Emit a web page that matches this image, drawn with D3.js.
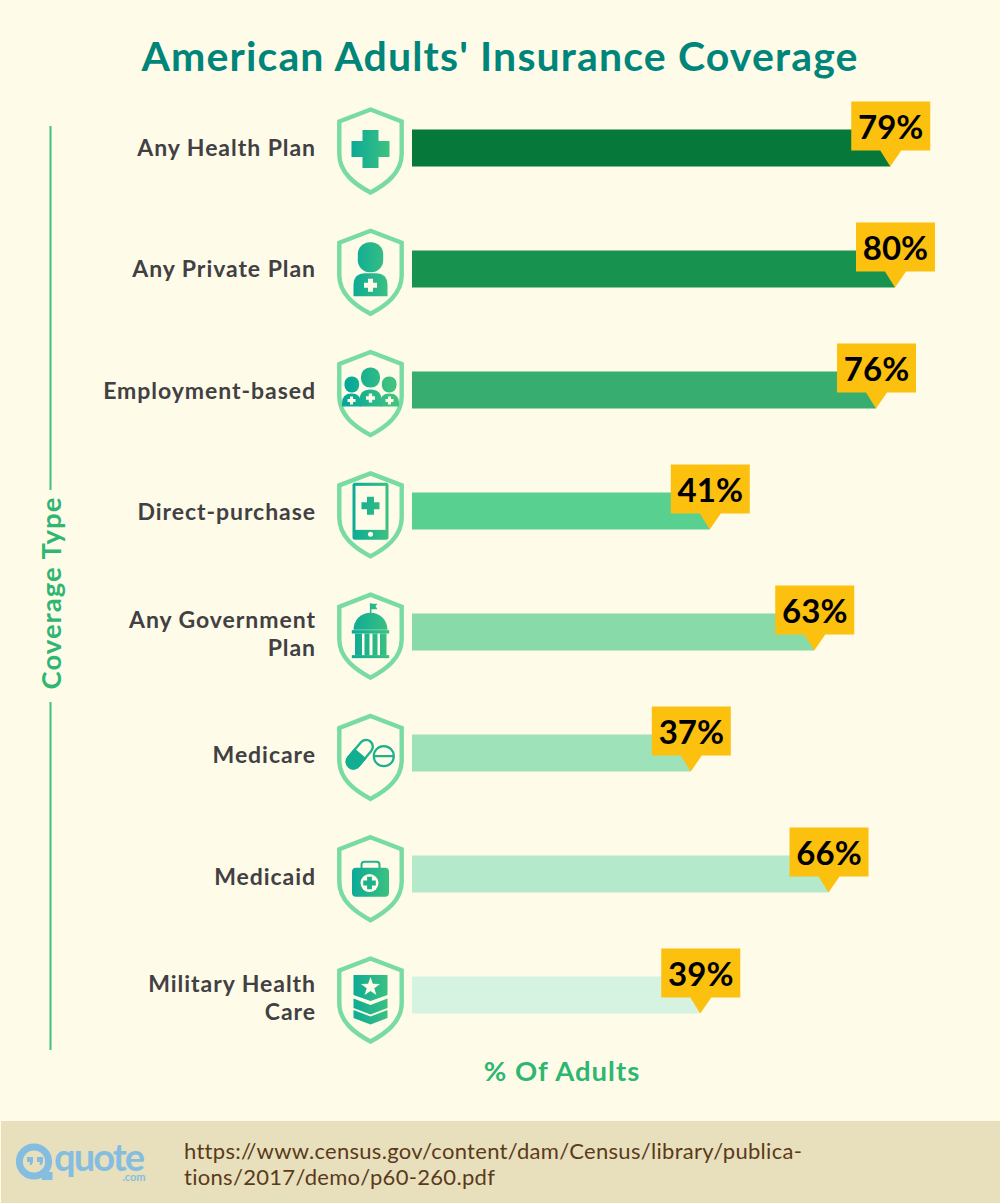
<!doctype html>
<html>
<head>
	<meta charset="utf-8">
	<script src="https://d3js.org/d3.v7.min.js" charset="utf-8"></script>
	<style type="text/css">
		html, body { margin: 0; padding: 0; background: #fffbe9; }
		svg { display: block; }
		text { font-family: Lato, sans-serif; }
		.title { font-size: 41px; font-weight: 700; fill: #00857a; letter-spacing: 1.15px; }
		.label { font-size: 23px; font-weight: 700; fill: #414042; letter-spacing: 0.95px; }
		.axis-title { font-size: 27.5px; font-weight: 700; fill: #2fb673; letter-spacing: 1px; }
		.value { font-size: 33px; font-weight: 700; fill: #000; }
		.source { font-size: 22px; fill: #5b3a1a; letter-spacing: 0.3px; }
		.logo { fill: #85bde0; }
	</style>
</head>
<body>
	<div id="chart"></div>
	<script type="text/javascript">
		var categories = ["Any Health Plan", "Any Private Plan", "Employment-based", "Direct-purchase",
			"Any Government Plan", "Medicare", "Medicaid", "Military Health Care"];
		var labelLines = [["Any Health Plan"], ["Any Private Plan"], ["Employment-based"], ["Direct-purchase"],
			["Any Government", "Plan"], ["Medicare"], ["Medicaid"], ["Military Health", "Care"]];
		var values = [79, 80, 76, 41, 63, 37, 66, 39];
		var barColors = ["#05783a", "#18934f", "#37ae6f", "#58d08f", "#88dba9", "#9de2b8", "#b4e9cb", "#d6f3e1"];
		var iconNames = ["cross", "person", "group", "phone", "capitol", "pills", "bag", "rank"];
		var sourceLines = ["https://www.census.gov/content/dam/Census/library/publica-", "tions/2017/demo/p60-260.pdf"];

		var width = 1000, height = 1203;
		var bg = "#fffbe9";

		// the source bars do not start at zero, this domain is what fits their lengths
		var x = d3.scaleLinear().domain([-21.7, 80]).range([412, 895]);
		var y = d3.scalePoint().domain(categories).range([148, 995]);
		var shieldY = d3.scalePoint().domain(categories).range([151, 1000]);
		var labelY = d3.scalePoint().domain(categories).range([148, 998]);
		var barH = 37;

		var svg = d3.select("#chart").append("svg").attr("width", width).attr("height", height);
		svg.append("rect").attr("width", width).attr("height", height).attr("fill", bg);

		var grad = svg.append("defs").append("linearGradient").attr("id", "iconFill")
			.attr("gradientUnits", "userSpaceOnUse")
			.attr("x1", -22).attr("x2", 22).attr("y1", 0).attr("y2", 0);
		grad.append("stop").attr("offset", 0).attr("stop-color", "#07a899");
		grad.append("stop").attr("offset", 1).attr("stop-color", "#41c37e");

		svg.append("text").attr("class", "title").attr("x", 500).attr("y", 71)
			.attr("text-anchor", "middle").text("American Adults' Insurance Coverage");

		// left axis title
		var axisLine = d3.path();
		axisLine.moveTo(50.5, 126); axisLine.lineTo(50.5, 490);
		axisLine.moveTo(50.5, 702); axisLine.lineTo(50.5, 1050);
		svg.append("path").attr("d", axisLine.toString()).attr("fill", "none").attr("stroke", "#3cc17f").attr("stroke-width", 2);
		svg.append("text").attr("class", "axis-title").attr("text-anchor", "middle")
			.attr("transform", "translate(61,593) rotate(-90)").text("Coverage Type");
		svg.append("text").attr("class", "axis-title").attr("x", 562).attr("y", 1081)
			.attr("text-anchor", "middle").text("% Of Adults");

		var rows = categories.map(function (c, i) {
			return {name: c, lines: labelLines[i], value: values[i], color: barColors[i], icon: iconNames[i]};
		});

		// labels
		svg.selectAll("text.label").data(rows).enter().append("text")
			.attr("class", "label").attr("text-anchor", "end")
			.attr("y", function (d) { return labelY(d.name) + 8 - (d.lines.length - 1) * 14; })
			.selectAll("tspan").data(function (d) { return d.lines; }).enter().append("tspan")
			.attr("x", 316)
			.attr("dy", function (d, i) { return i ? 28 : 0; })
			.text(function (d) { return d; });

		// bars
		svg.selectAll("rect.bar").data(rows).enter().append("rect")
			.attr("class", "bar")
			.attr("x", x(x.domain()[0]))
			.attr("y", function (d) { return y(d.name) - barH / 2; })
			.attr("width", function (d) { return x(d.value) - x(x.domain()[0]); })
			.attr("height", barH)
			.attr("fill", function (d) { return d.color; });

		// value callouts
		var tags = svg.selectAll("g.tag").data(rows).enter().append("g").attr("class", "tag")
			.attr("transform", function (d) { return "translate(" + x(d.value) + "," + (y(d.name) + barH / 2) + ")"; });
		tags.append("path").attr("fill", "#fcc00f")
			.attr("d", "M-39,-65H40V-16H11L0,0L-10,-16H-39Z");
		tags.append("text").attr("class", "value").attr("x", 0.5).attr("y", -27.5)
			.attr("text-anchor", "middle").text(function (d) { return d.value + "%"; });

		// icons are drawn around the middle of the shield
		function plus(g, cx, cy, r, t, fill) {
			g.append("path").attr("fill", fill).attr("d",
				"M" + (cx - t) + "," + (cy - r) + "h" + 2 * t + "v" + (r - t) + "h" + (r - t) + "v" + 2 * t +
				"h" + (t - r) + "v" + (r - t) + "h" + -2 * t + "v" + (t - r) + "h" + (t - r) + "v" + -2 * t +
				"h" + (r - t) + "Z");
		}
		function block(g, x0, y0, w, h, r, fill) {
			g.append("rect").attr("x", x0).attr("y", y0).attr("width", w).attr("height", h).attr("rx", r).attr("fill", fill);
		}
		function shoulders(g, cx, top, hw, bottom) {
			var r = Math.min(hw, 12);
			g.append("path").attr("fill", "url(#iconFill)").attr("d",
				"M" + (cx - hw) + "," + bottom + "V" + (top + r) + "Q" + (cx - hw) + "," + top + " " + (cx - hw + r) + "," + top +
				"H" + (cx + hw - r) + "Q" + (cx + hw) + "," + top + " " + (cx + hw) + "," + (top + r) + "V" + bottom + "Z");
		}
		var fillUrl = "url(#iconFill)";
		var drawIcon = {
			cross: function (g) {
				plus(g, 0, -2, 19, 8, fillUrl);
			},
			person: function (g) {
				block(g, -12.7, -30, 25.4, 30, 12, fillUrl);
				shoulders(g, 0, 1, 17, 24);
				plus(g, 0, 13, 6.5, 2.5, bg);
			},
			group: function (g) {
				block(g, -26, -17, 14.6, 16, 7, fillUrl);
				block(g, 11.4, -17, 14.6, 16, 7, fillUrl);
				shoulders(g, -19, 0, 9.5, 13);
				shoulders(g, 19, 0, 9.5, 13);
				block(g, -9.5, -26, 19, 20, 9, fillUrl);
				shoulders(g, 0, -4, 11, 13);
				plus(g, 0, 4.5, 4.5, 1.7, bg);
				plus(g, -19, 7, 4, 1.5, bg);
				plus(g, 19, 7, 4, 1.5, bg);
			},
			phone: function (g) {
				block(g, -18, -32, 36, 57, 2.5, fillUrl);
				block(g, -15, -29, 30, 44, 0, bg);
				g.append("circle").attr("cx", 0).attr("cy", 19.5).attr("r", 2.5).attr("fill", bg);
				plus(g, 0, -9, 9, 3.5, fillUrl);
			},
			capitol: function (g) {
				g.append("path").attr("fill", fillUrl).attr("d", "M-17,-6.5A17,17 0 0 1 17,-6.5Z");
				block(g, -0.6, -33, 1.5, 11, 0, fillUrl);
				g.append("path").attr("fill", fillUrl).attr("d", "M0,-32.5H7L5,-30L7,-27H0Z");
				block(g, -18.7, -6, 37.4, 3.4, 0, fillUrl);
				block(g, -15.5, -2.6, 7, 22, 0, fillUrl);
				block(g, -6, -2.6, 5, 22, 0, fillUrl);
				block(g, 2, -2.6, 5, 22, 0, fillUrl);
				block(g, 9.5, -2.6, 6.5, 22, 0, fillUrl);
				block(g, -18.7, 19, 37.4, 3, 0, fillUrl);
			},
			pills: function (g) {
				var pill = g.append("g").attr("transform", "translate(-10.7,-3.3) rotate(40)");
				pill.append("rect").attr("x", -6.7).attr("y", -16.5).attr("width", 13.4).attr("height", 33).attr("rx", 6.7)
					.attr("fill", bg).attr("stroke", "#1db58e").attr("stroke-width", 2.4);
				pill.append("path").attr("fill", "#12ae92").attr("d", "M-7.9,-1H7.9V10A7.9,7.9 0 0 1 -7.9,10Z");
				g.append("circle").attr("cx", 13.3).attr("cy", -1.3).attr("r", 10).attr("fill", "none")
					.attr("stroke", "#1cb08f").attr("stroke-width", 2.2);
				block(g, 3, -2.4, 20.6, 2.2, 0, "#1cb08f");
			},
			bag: function (g) {
				g.append("path").attr("fill", "none").attr("stroke", "#22b48b").attr("stroke-width", 2)
					.attr("d", "M-9,-10V-14Q-9,-17 -6,-17H6Q9,-17 9,-14V-10");
				block(g, -18.5, -11, 37, 29, 4, fillUrl);
				g.append("circle").attr("cx", -1).attr("cy", 4.3).attr("r", 9).attr("fill", bg);
				plus(g, -1, 4.3, 6.3, 2.4, "#1ab28d");
			},
			rank: function (g) {
				g.append("path").attr("fill", fillUrl).attr("d", "M-17,-25H17V-5L0,1L-17,-5Z");
				g.append("path").attr("fill", fillUrl).attr("d", "M-17,-1.5L0,5L17,-1.5V8L0,14.5L-17,8Z");
				g.append("path").attr("fill", fillUrl).attr("d", "M-17,10L0,16.5L17,10V18L0,24.5L-17,18Z");
				var star = d3.range(10).map(function (i) {
					var r = i % 2 ? 4 : 10, a = i * Math.PI / 5;
					return [r * Math.sin(a), -r * Math.cos(a)];
				});
				g.append("path").attr("fill", bg).attr("transform", "translate(0,-13)").attr("d", d3.line()(star) + "Z");
			}
		};

		var icons = svg.selectAll("g.icon").data(rows).enter().append("g").attr("class", "icon")
			.attr("transform", function (d) { return "translate(370.5," + shieldY(d.name) + ")"; });
		icons.append("path").attr("fill", "none").attr("stroke", "#78dba2").attr("stroke-width", 4.4)
			.attr("stroke-linejoin", "miter")
			.attr("d", "M0,-41.5L31.2,-29.5V3C31.2,22 15,33.5 0,41.5C-15,33.5 -31.2,22 -31.2,3V-29.5Z");
		icons.each(function (d) { drawIcon[d.icon](d3.select(this)); });

		// footer
		svg.append("rect").attr("x", 1).attr("y", 1121).attr("width", 999).attr("height", 82).attr("fill", "#e8e0bc");
		svg.selectAll("text.source").data(sourceLines).enter().append("text")
			.attr("class", "source").attr("x", 184)
			.attr("y", function (d, i) { return 1159 + i * 26; })
			.text(function (d) { return d; });

		var logo = svg.append("g");
		logo.append("circle").attr("cx", 34).attr("cy", 1161.5).attr("r", 14.6).attr("fill", "none")
			.attr("stroke", "#85bde0").attr("stroke-width", 7);
		logo.append("path").attr("class", "logo").attr("d", "M42,1172H52.5V1180H42Z");
		logo.append("path").attr("class", "logo").attr("d", "M27,1157H33V1162L31.5,1165H29.5L30,1162H27Z");
		logo.append("path").attr("class", "logo").attr("d", "M37,1157H43V1162L41.5,1165H39.5L40,1162H37Z");
		logo.append("text").attr("class", "logo").attr("x", 54).attr("y", 1171)
			.style("font-size", "38px").style("font-weight", 700).style("letter-spacing", "-1.9px").text("quote");
		logo.append("text").attr("class", "logo").attr("x", 145.5).attr("y", 1181).attr("text-anchor", "end")
			.style("font-size", "11px").style("font-weight", 700).text(".com");
	</script>
</body>
</html>
